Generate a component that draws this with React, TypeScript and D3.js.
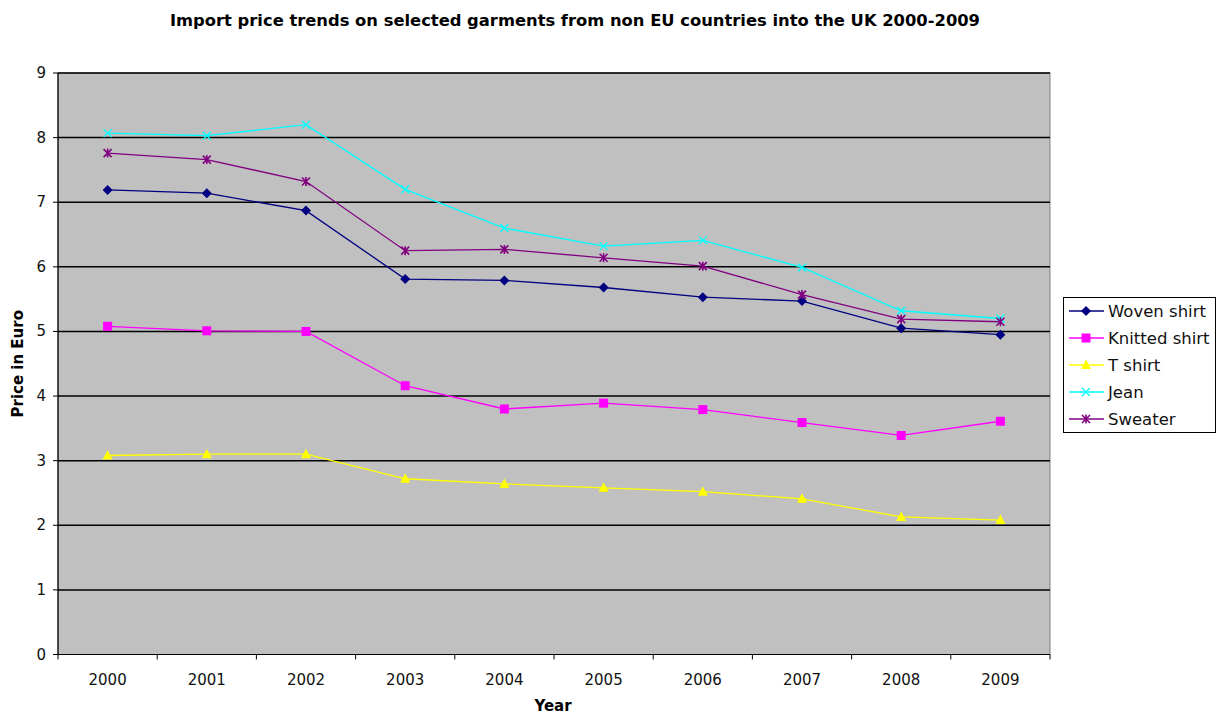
import React from 'react';
import * as d3 from 'd3';

const years = ['2000', '2001', '2002', '2003', '2004', '2005', '2006', '2007', '2008', '2009'];
const wovenShirt = [7.19, 7.14, 6.87, 5.81, 5.79, 5.68, 5.53, 5.47, 5.05, 4.95];
const knittedShirt = [5.08, 5.01, 5.0, 4.16, 3.8, 3.89, 3.79, 3.59, 3.39, 3.61];
const tShirt = [3.08, 3.1, 3.1, 2.72, 2.64, 2.58, 2.52, 2.41, 2.13, 2.08];
const jean = [8.07, 8.03, 8.2, 7.2, 6.6, 6.32, 6.41, 5.99, 5.32, 5.2];
const sweater = [7.76, 7.66, 7.32, 6.25, 6.27, 6.14, 6.01, 5.57, 5.19, 5.15];
const yTicks = [0, 1, 2, 3, 4, 5, 6, 7, 8, 9];

const seriesNames = ['Woven shirt', 'Knitted shirt', 'T shirt', 'Jean', 'Sweater'];
const seriesColors = ['#000080', '#FF00FF', '#FFFF00', '#00FFFF', '#800080'];
const seriesShapes = ['diamond', 'square', 'triangle', 'x', 'star'];

const W = 1217;
const H = 714;
const margin = { top: 73, right: 167, bottom: 59.5, left: 58 };
const font = 'Verdana, "DejaVu Sans", sans-serif';

function Marker({ shape, x, y, color }: { shape: string; x: number; y: number; color: string }) {
  if (shape === 'diamond') {
    return <path d={`M${x},${y - 5}L${x + 5},${y}L${x},${y + 5}L${x - 5},${y}Z`} fill={color} />;
  }
  if (shape === 'square') {
    return <rect x={x - 4.5} y={y - 4.5} width={9} height={9} fill={color} />;
  }
  if (shape === 'triangle') {
    return <path d={`M${x},${y - 5.5}L${x + 5},${y + 4}L${x - 5},${y + 4}Z`} fill={color} />;
  }
  if (shape === 'x') {
    return (
      <path
        d={`M${x - 4},${y - 4}L${x + 4},${y + 4}M${x + 4},${y - 4}L${x - 4},${y + 4}`}
        stroke={color}
        strokeWidth={1.3}
      />
    );
  }
  // star (asterisk)
  return (
    <path
      d={`M${x - 4},${y - 4}L${x + 4},${y + 4}M${x + 4},${y - 4}L${x - 4},${y + 4}M${x},${y - 4.5}L${x},${y + 4.5}`}
      stroke={color}
      strokeWidth={1.6}
    />
  );
}

export default function App() {
  const innerW = W - margin.left - margin.right;
  const innerH = H - margin.top - margin.bottom;
  const x0 = margin.left;
  const y0 = margin.top;

  const xBand = d3.scaleBand().domain(years).range([x0, x0 + innerW]);
  const xPos = (d: string) => (xBand(d) || 0) + xBand.bandwidth() / 2;
  const y = d3.scaleLinear().domain([0, 9]).range([y0 + innerH, y0]);

  const allSeries = [wovenShirt, knittedShirt, tShirt, jean, sweater];
  const line = d3
    .line<number>()
    .x((_, i) => xPos(years[i]))
    .y(d => y(d));

  const bottom = y(0);
  const right = x0 + innerW;

  return (
    <div style={{ position: 'absolute', left: 0, top: 0 }}>
      <svg width={W} height={H} style={{ display: 'block', background: '#fff' }} fontFamily={font}>
        {/* Title */}
        <text
          x={575}
          y={26}
          textAnchor="middle"
          fontSize={15}
          fontWeight="bold"
          fontFamily='Tahoma, "DejaVu Sans", sans-serif'
          textLength={810}
          lengthAdjust="spacingAndGlyphs"
        >
          Import price trends on selected garments from non EU countries into the UK 2000-2009
        </text>

        {/* Plot background */}
        <rect x={x0} y={y0} width={innerW} height={bottom - y0} fill="#C0C0C0" stroke="#808080" strokeWidth={1} />

        {/* Gridlines */}
        {yTicks.slice(1).map(t => (
          <line key={t} x1={x0} x2={right} y1={y(t)} y2={y(t)} stroke="#000" strokeWidth={1.5} />
        ))}

        {/* Axes */}
        <line x1={x0} x2={x0} y1={y0} y2={bottom} stroke="#000" strokeWidth={1.2} />
        <line x1={x0} x2={right} y1={bottom} y2={bottom} stroke="#000" strokeWidth={1.2} />
        {yTicks.map(t => (
          <g key={t}>
            <line x1={x0 - 5} x2={x0} y1={y(t)} y2={y(t)} stroke="#000" strokeWidth={1} />
            <text x={x0 - 12} y={y(t) + 5} textAnchor="end" fontSize={15} fill="#111">
              {t}
            </text>
          </g>
        ))}
        {years.map(yr => (
          <g key={yr}>
            <line
              x1={xBand(yr) || 0}
              x2={xBand(yr) || 0}
              y1={bottom}
              y2={bottom + 5}
              stroke="#000"
              strokeWidth={1}
            />
            <text x={xPos(yr)} y={bottom + 30} textAnchor="middle" fontSize={15} fill="#111">
              {yr}
            </text>
          </g>
        ))}
        <line x1={right} x2={right} y1={bottom} y2={bottom + 5} stroke="#000" strokeWidth={1} />

        {/* Axis titles */}
        <text x={553} y={711} textAnchor="middle" fontSize={15} fontWeight="bold">
          Year
        </text>
        <text
          transform={`translate(23,${(y0 + bottom) / 2}) rotate(-90)`}
          textAnchor="middle"
          fontSize={15}
          fontWeight="bold"
        >
          Price in Euro
        </text>

        {/* Series */}
        {allSeries.map((s, si) => (
          <g key={seriesNames[si]}>
            <path d={line(s) || ''} fill="none" stroke={seriesColors[si]} strokeWidth={1.3} />
            {s.map((v, i) => (
              <Marker key={i} shape={seriesShapes[si]} x={xPos(years[i])} y={y(v)} color={seriesColors[si]} />
            ))}
          </g>
        ))}

        {/* Legend */}
        <g>
          <rect x={1063.5} y={297.5} width={152} height={135} fill="#fff" stroke="#000" strokeWidth={1} />
          {seriesNames.map((n, i) => {
            const ly = 311 + i * 27;
            return (
              <g key={n}>
                <line x1={1069} x2={1104} y1={ly} y2={ly} stroke={seriesColors[i]} strokeWidth={1.3} />
                <Marker shape={seriesShapes[i]} x={1086} y={ly} color={seriesColors[i]} />
                <text x={1108} y={ly + 6} fontSize={16.5} fill="#111">
                  {n}
                </text>
              </g>
            );
          })}
        </g>
      </svg>
    </div>
  );
}
